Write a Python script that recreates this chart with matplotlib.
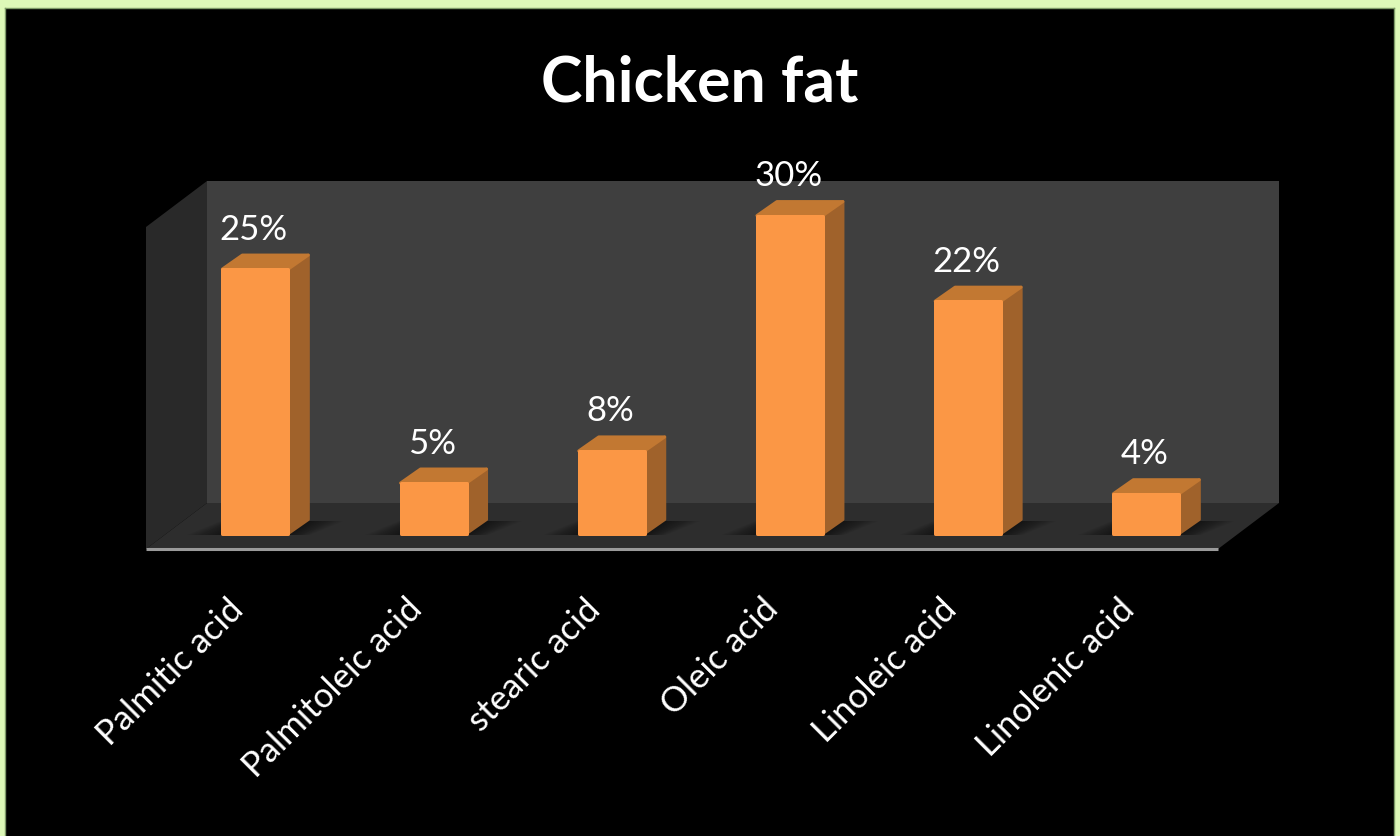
import numpy as np
import matplotlib
matplotlib.use('Agg')
import matplotlib.pyplot as plt
from matplotlib.patches import Polygon, Rectangle

plt.rcParams['font.family'] = ['Lato', 'DejaVu Sans']

categories = ['Palmitic acid', 'Palmitoleic acid', 'stearic acid',
              'Oleic acid', 'Linoleic acid', 'Linolenic acid']
values = [25, 5, 8, 30, 22, 4]
value_labels = ['25%', '5%', '8%', '30%', '22%', '4%']

W, H = 1400, 836
fig = plt.figure(figsize=(W / 100, H / 100), dpi=100, facecolor='#DDF8B8')

# black slide behind the chart
bg = fig.add_axes([5 / W, 0, (1394 - 5) / W, (H - 8) / H])
bg.set_facecolor('black')
bg.set_xticks([])
bg.set_yticks([])
for s in bg.spines.values():
    s.set_color('#7E9A68')
    s.set_linewidth(1)
bg.spines['bottom'].set_visible(False)

# axes = front plane of the 3D box
left, right, base, top = 146, 1218, 549, 227
ax = fig.add_axes([left / W, (H - base) / H, (right - left) / W, (base - top) / H])
ax.set_xlim(-0.5, 5.5)
ax.set_ylim(0, 30.1)
ax.axis('off')

px = 6 / (right - left)    # one pixel in x data units
py = 30.1 / (base - top)   # one pixel in y data units
dx_box, dy_box = 61 * px, 46 * py
dx_off, dy_off = 20 * px, 14 * py    # bars sit inside the floor
dx_bar, dy_bar = 20 * px, 14 * py
bar_w = 66 * px
lw_edge = 2.16   # 3 px, round joins give the soft corners
inset = 1.5 * py
spacing = 178.2 * px    # bars are a bit closer than the floor divisions

x0, x1, y1 = -0.5, 5.5, 30.1
# walls and floor
ax.add_patch(Polygon([(x0 + dx_box, dy_box), (x1 + dx_box, dy_box), (x1 + dx_box, y1 + dy_box), (x0 + dx_box, y1 + dy_box)],
                     fc='#3F3F3F', ec='none', clip_on=False))
ax.add_patch(Polygon([(x0, 0), (x0 + dx_box, dy_box), (x0 + dx_box, y1 + dy_box), (x0, y1)],
                     fc='#292929', ec='none', clip_on=False))
ax.add_patch(Polygon([(x0, 0), (x1, 0), (x1 + dx_box, dy_box), (x0 + dx_box, dy_box)],
                     fc='#2D2D2D', ec='none', clip_on=False))
ax.plot([x0, x1], [0, 0], color='#9A9A9A', lw=2.2, clip_on=False, solid_capstyle='butt')

for i, v in enumerate(values):
    xc = i * spacing
    xl = xc - bar_w / 2 + dx_off
    xr = xc + bar_w / 2 + dx_off
    yb = dy_off + inset
    yt = v + dy_off - inset
    # soft shadow on the floor
    for k in range(10):
        grow = (10 - k) * 3.5 * px
        ax.add_patch(Polygon([(xl - grow, dy_off), (xr + grow * 0.6, dy_off),
                              (xr + dx_bar + grow, dy_off + dy_bar), (xl + dx_bar - grow * 0.6, dy_off + dy_bar)],
                             fc='black', ec='none', alpha=0.06, clip_on=False))
    # side and top faces, then the front bar
    ax.add_patch(Polygon([(xr, yb), (xr + dx_bar, yb + dy_bar), (xr + dx_bar, yt + dy_bar), (xr, yt)],
                         fc='#A0622B', ec='#A0622B', lw=lw_edge, joinstyle='round', clip_on=False))
    ax.add_patch(Polygon([(xl, yt), (xr, yt), (xr + dx_bar, yt + dy_bar), (xl + dx_bar, yt + dy_bar)],
                         fc='#C27832', ec='#C27832', lw=lw_edge, joinstyle='round', clip_on=False))
    ax.add_patch(Rectangle((xl, yb), bar_w, yt - yb, fc='#FB9745', ec='#FB9745', lw=lw_edge,
                           joinstyle='round', clip_on=False))
    ax.text(xc + dx_off - 1.5 * px, v + dy_off + 22 * py, value_labels[i], color='white', fontsize=25,
            ha='center', va='bottom', clip_on=False)
    # rotated category label anchored under the bar
    ax.text(xc - 0.045, -44 * py, categories[i], color='white', fontsize=25, rotation=45,
            ha='right', va='top', rotation_mode='anchor', clip_on=False)

fig.text(700 / W, 1 - 84 / H, 'Chicken fat', color='white', fontsize=45, fontweight='bold',
         ha='center', va='center')

fig.savefig('out.png', dpi=100, facecolor=fig.get_facecolor())
